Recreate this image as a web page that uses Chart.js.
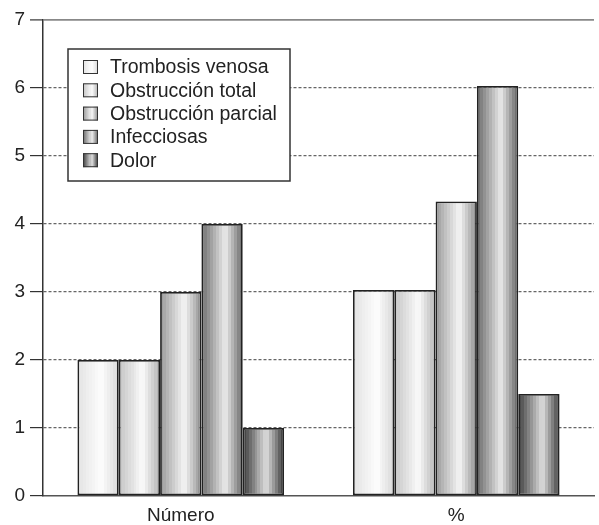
<!DOCTYPE html>
<html><head><meta charset="utf-8">
<script src="https://cdn.jsdelivr.net/npm/chart.js@4/dist/chart.umd.min.js"></script>
<style>html,body{margin:0;padding:0;background:#fff}#wrap{width:599px;height:525px}</style>
</head><body><div id="wrap"><canvas id="c" width="599" height="525"></canvas></div>
<script>
// ---- data ----
const categories = ['Número', '%'];
const seriesNames = ['Trombosis venosa', 'Obstrucción total', 'Obstrucción parcial', 'Infecciosas', 'Dolor'];
const trombosisVenosa = [2, 3.03];
const obstruccionTotal = [2, 3.03];
const obstruccionParcial = [3, 4.33];
const infecciosas = [4, 6.03];
const dolor = [1, 1.5];
const yTickValues = [0, 1, 2, 3, 4, 5, 6, 7];

// ---- styles ----
const FONT = "'Liberation Sans', Arial, Helvetica, sans-serif";
const shades = [ // gray levels: left edge, highlight, right edge
  [226, 253, 216],
  [196, 251, 178],
  [152, 246, 140],
  [106, 236, 100],
  [60, 222, 56]
];
const CAT_PCT = 0.75;

function shadeAt(s, t) {
  const hp = 0.58;
  if (t < hp) { const u = t / hp; return s[0] + (s[1] - s[0]) * u; }
  const u = (t - hp) / (1 - hp); return s[1] + (s[2] - s[1]) * u;
}
function bandGradient(ctx, left, right, s) {
  const g = ctx.createLinearGradient(left, 0, right, 0);
  const n = 14;
  for (let i = 0; i < n; i++) {
    const v = Math.round(shadeAt(s, (i + 0.5) / n));
    const col = 'rgb(' + v + ',' + v + ',' + v + ')';
    g.addColorStop(i / n, col);
    g.addColorStop((i + 1) / n, col);
  }
  return g;
}

const seriesData = [trombosisVenosa, obstruccionTotal, obstruccionParcial, infecciosas, dolor];

function barFill(c) {
  const chart = c.chart;
  const xs = chart.scales && chart.scales.x;
  const s = shades[c.datasetIndex];
  if (!xs || !chart.chartArea || c.type !== 'data') {
    const v = s[1]; return 'rgb(' + v + ',' + v + ',' + v + ')';
  }
  const catW = xs.width / categories.length;
  const groupW = catW * CAT_PCT;
  const barW = groupW / seriesData.length;
  const center = xs.getPixelForValue(c.dataIndex);
  const left = center - groupW / 2 + c.datasetIndex * barW;
  return bandGradient(chart.ctx, left, left + barW, s);
}

const boxLegend = {
  id: 'boxLegend',
  afterDraw(chart) {
    const ctx = chart.ctx;
    const a = chart.chartArea;
    const bx = a.left + 25, by = a.top + 29, bw = 222, bh = 132;
    ctx.save();
    ctx.fillStyle = '#ffffff';
    ctx.fillRect(bx, by, bw, bh);
    ctx.lineWidth = 1.5;
    ctx.strokeStyle = '#333333';
    ctx.strokeRect(bx, by, bw, bh);
    ctx.font = '19.5px ' + FONT;
    ctx.textBaseline = 'middle';
    ctx.textAlign = 'left';
    seriesNames.forEach((name, i) => {
      const cy = by + 18 + i * 23.3;
      const sx = bx + 15, sw = 15, sh = 14;
      ctx.fillStyle = bandGradient(ctx, sx, sx + sw, shades[i]);
      ctx.fillRect(sx, cy - sh / 2, sw, sh);
      ctx.lineWidth = 1;
      ctx.strokeStyle = '#333333';
      ctx.strokeRect(sx + 0.5, cy - sh / 2 + 0.5, sw - 1, sh - 1);
      ctx.fillStyle = '#222222';
      ctx.fillText(name, bx + 42, cy + 1);
    });
    ctx.restore();
  }
};

new Chart(document.getElementById('c'), {
  type: 'bar',
  data: {
    labels: categories,
    datasets: seriesNames.map((name, i) => ({
      label: name,
      data: seriesData[i],
      backgroundColor: barFill,
      borderColor: '#222222',
      borderWidth: 1.8,
      borderSkipped: false,
      categoryPercentage: CAT_PCT,
      barPercentage: 1
    }))
  },
  options: {
    responsive: false,
    animation: false,
    layout: { padding: { top: 20, right: 5, left: 0, bottom: 0 } },
    plugins: { legend: { display: false }, tooltip: { enabled: false } },
    scales: {
      x: {
        grid: { display: false, drawTicks: false },
        border: { display: true, color: '#555555', width: 1.5 },
        ticks: { color: '#222222', font: { family: FONT, size: 19 }, padding: 8 },
        afterFit: (s) => { s.height = 29; }
      },
      y: {
        min: 0, max: 7,
        afterBuildTicks: (s) => { s.ticks = yTickValues.map(v => ({ value: v })); },
        ticks: { color: '#222222', font: { family: FONT, size: 19 }, padding: 5 },
        afterFit: (s) => { s.width = 43; },
        grid: {
          drawTicks: true,
          tickLength: 13,
          tickWidth: 1.2,
          tickColor: '#333333',
          lineWidth: (c) => (c.tick && c.tick.value === 7 ? 1.8 : 1.2),
          color: (c) => {
            if (!c.tick) return '#666666';
            if (c.tick.value === 0) return 'rgba(0,0,0,0)';
            if (c.tick.value === 7) return '#888888';
            return '#666666';
          }
        },
        border: {
          display: true, color: '#333333', width: 1.5,
          dash: (c) => (c.tick && (c.tick.value === 7 || c.tick.value === 0) ? [] : [3, 2])
        }
      }
    }
  },
  plugins: [boxLegend]
});
</script>
</body></html>
